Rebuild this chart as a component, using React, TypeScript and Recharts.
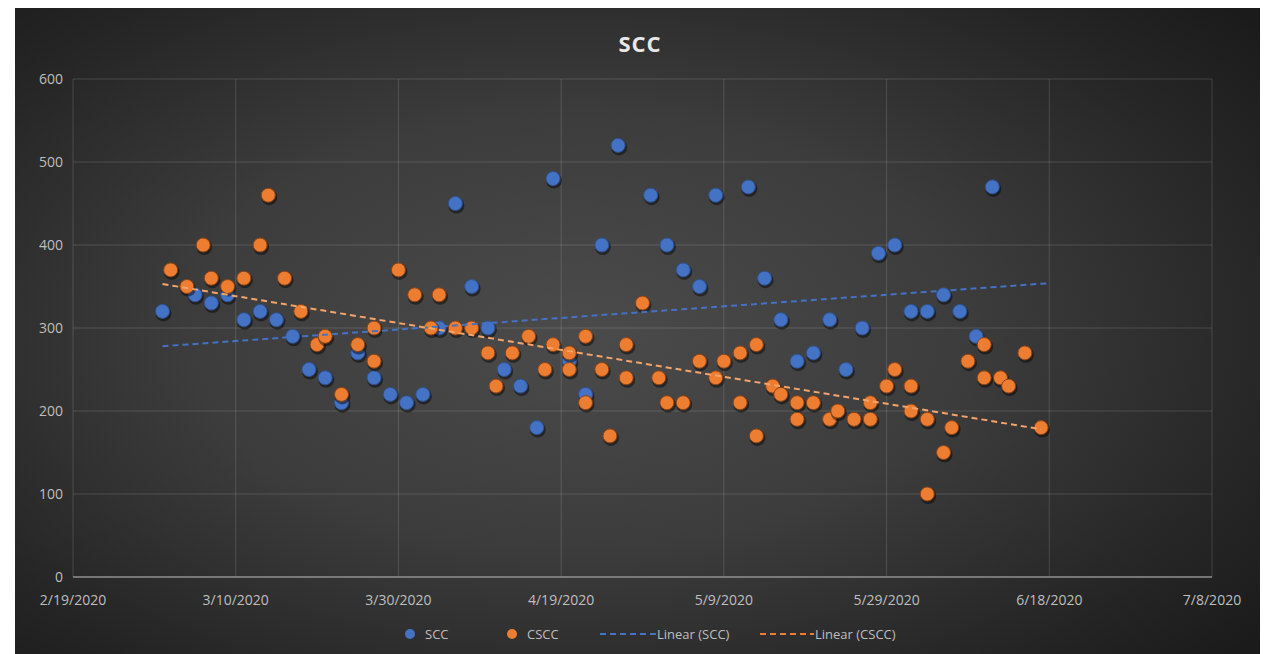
import { ScatterChart, Scatter, XAxis, YAxis, CartesianGrid } from "recharts";

// dates are M/D of 2020
const sccDates = [
  "3/1", "3/5", "3/7", "3/9", "3/11", "3/13", "3/15", "3/17", "3/19", "3/21",
  "3/23", "3/25", "3/27", "3/29", "3/31", "4/2", "4/4", "4/6", "4/8", "4/10",
  "4/12", "4/14", "4/16", "4/18", "4/20", "4/22", "4/24", "4/26", "4/30", "5/2",
  "5/4", "5/6", "5/8", "5/12", "5/14", "5/16", "5/18", "5/20", "5/22", "5/24",
  "5/26", "5/28", "5/30", "6/1", "6/3", "6/5", "6/7", "6/9", "6/11",
];
const sccValues = [
  320, 340, 330, 340, 310, 320, 310, 290, 250, 240,
  210, 270, 240, 220, 210, 220, 300, 450, 350, 300,
  250, 230, 180, 480, 260, 220, 400, 520, 460, 400,
  370, 350, 460, 470, 360, 310, 260, 270, 310, 250,
  300, 390, 400, 320, 320, 340, 320, 290, 470,
];

const csccDates = [
  "3/2", "3/4", "3/6", "3/7", "3/9", "3/11", "3/13", "3/14", "3/16", "3/18",
  "3/20", "3/21", "3/23", "3/25", "3/27", "3/27", "3/30", "4/1", "4/3", "4/4",
  "4/6", "4/8", "4/10", "4/11", "4/13", "4/15", "4/17", "4/18", "4/20", "4/20",
  "4/22", "4/22", "4/24", "4/25", "4/27", "4/27", "4/29", "5/1", "5/2", "5/4",
  "5/6", "5/8", "5/9", "5/11", "5/11", "5/13", "5/13", "5/15", "5/16", "5/18",
  "5/18", "5/20", "5/22", "5/23", "5/25", "5/27", "5/27", "5/29", "5/30", "6/1",
  "6/1", "6/3", "6/3", "6/5", "6/6", "6/8", "6/10", "6/10", "6/12", "6/13",
  "6/15", "6/17",
];
const csccValues = [
  370, 350, 400, 360, 350, 360, 400, 460, 360, 320,
  280, 290, 220, 280, 300, 260, 370, 340, 300, 340,
  300, 300, 270, 230, 270, 290, 250, 280, 270, 250,
  290, 210, 250, 170, 280, 240, 330, 240, 210, 210,
  260, 240, 260, 270, 210, 280, 170, 230, 220, 210,
  190, 210, 190, 200, 190, 210, 190, 230, 250, 230,
  200, 190, 100, 150, 180, 260, 280, 240, 240, 230,
  270, 180,
];

// trend line end points
const sccTrendDates = ["3/1", "6/18"];
const sccTrendValues = [278, 354];
const csccTrendDates = ["3/1", "6/17"];
const csccTrendValues = [353, 178];

const xTickLabels = [
  "2/19/2020", "3/10/2020", "3/30/2020", "4/19/2020",
  "5/9/2020", "5/29/2020", "6/18/2020", "7/8/2020",
];
const yTicks = [0, 100, 200, 300, 400, 500, 600];

const BLUE = "#4472C4";
const ORANGE = "#ED7D31";
const FONT = "'Open Sans', sans-serif";

const toDay = (s: string) => {
  const [m, d, y] = s.split("/").map(Number);
  return (Date.UTC(y || 2020, m - 1, d) - Date.UTC(2020, 1, 19)) / 86400000;
};

const zip = (dates: string[], values: number[]) =>
  dates.map((d, i) => ({ x: toDay(d), y: values[i] }));

const sccData = zip(sccDates, sccValues);
const csccData = zip(csccDates, csccValues);
const sccTrend = zip(sccTrendDates, sccTrendValues);
const csccTrend = zip(csccTrendDates, csccTrendValues);

const xTicks = xTickLabels.map(toDay);
const labelFor = (v: number) => xTickLabels[xTicks.indexOf(v)] ?? "";

function marker(fill: string, rim: string) {
  // eslint-disable-next-line @typescript-eslint/no-explicit-any
  return (props: any) => {
    const { cx, cy } = props;
    if (cx == null || cy == null) return <g />;
    return (
      <g>
        <circle cx={cx + 1} cy={cy + 2} r={8} fill="rgba(0,0,0,0.45)" />
        <circle cx={cx} cy={cy} r={7} fill={fill} stroke={rim} strokeWidth={1} />
      </g>
    );
  };
}

const noShape = () => <g />;

function LegendRow() {
  const base = {
    position: "absolute",
    top: 616,
    height: 20,
    display: "flex",
    alignItems: "center",
  } as const;
  const dot = (c: string) => ({
    width: 10,
    height: 10,
    borderRadius: 5,
    background: c,
    marginRight: 10,
  });
  return (
    <div style={{ fontFamily: FONT, fontSize: 13, color: "#bfbfbf" }}>
      <div style={{ ...base, left: 390 }}>
        <span style={dot(BLUE)} />
        SCC
      </div>
      <div style={{ ...base, left: 492 }}>
        <span style={dot(ORANGE)} />
        CSCC
      </div>
      <div style={{ ...base, left: 585 }}>
        <svg width={56} height={6} style={{ marginRight: 1 }}>
          <line x1={0} y1={3} x2={56} y2={3} stroke={BLUE} strokeWidth={2} strokeDasharray="6 4" />
        </svg>
        Linear (SCC)
      </div>
      <div style={{ ...base, left: 745 }}>
        <svg width={54} height={6} style={{ marginRight: 1 }}>
          <line x1={0} y1={3} x2={54} y2={3} stroke={ORANGE} strokeWidth={2} strokeDasharray="6 4" />
        </svg>
        Linear (CSCC)
      </div>
    </div>
  );
}

export default function App() {
  return (
    <div
      style={{
        position: "relative",
        marginLeft: 7,
        width: 1250,
        height: 646,
        background:
          "radial-gradient(ellipse 70% 75% at 45% 50%, #4b4b4b 0%, #3c3c3c 45%, #262626 80%, #1b1b1b 100%)",
        overflow: "hidden",
      }}
    >
      <div
        style={{
          position: "absolute",
          top: 20,
          left: 0,
          right: 0,
          textAlign: "center",
          fontFamily: FONT,
          fontWeight: 700,
          fontSize: 22,
          color: "#e8e8e8",
          letterSpacing: 1,
        }}
      >
        SCC
      </div>
      <ScatterChart
        width={1250}
        height={646}
        margin={{ top: 71, right: 53, bottom: 47, left: 18 }}
      >
        <CartesianGrid stroke="rgba(255,255,255,0.14)" strokeWidth={1} />
        <XAxis
          type="number"
          dataKey="x"
          domain={[0, 140]}
          ticks={xTicks}
          tickFormatter={labelFor}
          allowDataOverflow
          height={30}
          tickLine={false}
          tickMargin={12}
          axisLine={{ stroke: "#8c8c8c", strokeWidth: 1.5 }}
          tick={{ fill: "#bfbfbf", fontSize: 14, fontFamily: FONT }}
        />
        <YAxis
          type="number"
          dataKey="y"
          domain={[0, 600]}
          ticks={yTicks}
          width={40}
          tickLine={false}
          tickMargin={4}
          axisLine={false}
          tick={{ fill: "#bfbfbf", fontSize: 14, fontFamily: FONT }}
        />
        <Scatter
          name="SCC"
          data={sccData}
          shape={marker(BLUE, "#2f528f")}
          isAnimationActive={false}
        />
        <Scatter
          name="CSCC"
          data={csccData}
          shape={marker(ORANGE, "#8a4215")}
          isAnimationActive={false}
        />
        <Scatter
          name="Linear (SCC)"
          data={sccTrend}
          line={{ stroke: BLUE, strokeWidth: 2, strokeDasharray: "6 4" }}
          shape={noShape}
          isAnimationActive={false}
        />
        <Scatter
          name="Linear (CSCC)"
          data={csccTrend}
          line={{ stroke: "#F4A36B", strokeWidth: 2, strokeDasharray: "6 4" }}
          shape={noShape}
          isAnimationActive={false}
        />
      </ScatterChart>
      <LegendRow />
    </div>
  );
}
